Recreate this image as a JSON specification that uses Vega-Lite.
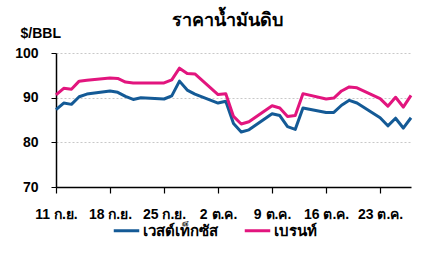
{
  "$schema": "https://vega.github.io/schema/vega-lite/v6.json",
  "autosize": "none",
  "width": 355,
  "height": 134,
  "padding": {"left": 56, "top": 53, "right": 16, "bottom": 66},
  "background": "white",
  "title": {"text": "ราคาน้ำมันดิบ", "fontSize": 18, "fontWeight": "bold", "font": "Liberation Sans", "color": "black", "anchor": "middle", "dx": -6, "offset": -4},
  "data": {"values": [
    {"date": "2023-09-11", "series": "เวสต์เท็กซัส", "price": 87.3},
    {"date": "2023-09-12", "series": "เวสต์เท็กซัส", "price": 88.8},
    {"date": "2023-09-13", "series": "เวสต์เท็กซัส", "price": 88.5},
    {"date": "2023-09-14", "series": "เวสต์เท็กซัส", "price": 90.2},
    {"date": "2023-09-15", "series": "เวสต์เท็กซัส", "price": 90.8},
    {"date": "2023-09-18", "series": "เวสต์เท็กซัส", "price": 91.5},
    {"date": "2023-09-19", "series": "เวสต์เท็กซัส", "price": 91.2},
    {"date": "2023-09-20", "series": "เวสต์เท็กซัส", "price": 90.3},
    {"date": "2023-09-21", "series": "เวสต์เท็กซัส", "price": 89.6},
    {"date": "2023-09-22", "series": "เวสต์เท็กซัส", "price": 90.0},
    {"date": "2023-09-25", "series": "เวสต์เท็กซัส", "price": 89.7},
    {"date": "2023-09-26", "series": "เวสต์เท็กซัส", "price": 90.4},
    {"date": "2023-09-27", "series": "เวสต์เท็กซัส", "price": 93.7},
    {"date": "2023-09-28", "series": "เวสต์เท็กซัส", "price": 91.7},
    {"date": "2023-09-29", "series": "เวสต์เท็กซัส", "price": 90.8},
    {"date": "2023-10-02", "series": "เวสต์เท็กซัส", "price": 88.8},
    {"date": "2023-10-03", "series": "เวสต์เท็กซัส", "price": 89.2},
    {"date": "2023-10-04", "series": "เวสต์เท็กซัส", "price": 84.2},
    {"date": "2023-10-05", "series": "เวสต์เท็กซัส", "price": 82.3},
    {"date": "2023-10-06", "series": "เวสต์เท็กซัส", "price": 82.8},
    {"date": "2023-10-09", "series": "เวสต์เท็กซัส", "price": 86.4},
    {"date": "2023-10-10", "series": "เวสต์เท็กซัส", "price": 86.0},
    {"date": "2023-10-11", "series": "เวสต์เท็กซัส", "price": 83.5},
    {"date": "2023-10-12", "series": "เวสต์เท็กซัส", "price": 82.9},
    {"date": "2023-10-13", "series": "เวสต์เท็กซัส", "price": 87.7},
    {"date": "2023-10-16", "series": "เวสต์เท็กซัส", "price": 86.7},
    {"date": "2023-10-17", "series": "เวสต์เท็กซัส", "price": 86.7},
    {"date": "2023-10-18", "series": "เวสต์เท็กซัส", "price": 88.3},
    {"date": "2023-10-19", "series": "เวสต์เท็กซัส", "price": 89.4},
    {"date": "2023-10-20", "series": "เวสต์เท็กซัส", "price": 88.8},
    {"date": "2023-10-23", "series": "เวสต์เท็กซัส", "price": 85.5},
    {"date": "2023-10-24", "series": "เวสต์เท็กซัส", "price": 83.7},
    {"date": "2023-10-25", "series": "เวสต์เท็กซัส", "price": 85.4},
    {"date": "2023-10-26", "series": "เวสต์เท็กซัส", "price": 83.2},
    {"date": "2023-10-27", "series": "เวสต์เท็กซัส", "price": 85.5},
    {"date": "2023-09-11", "series": "เบรนท์", "price": 90.6},
    {"date": "2023-09-12", "series": "เบรนท์", "price": 92.1},
    {"date": "2023-09-13", "series": "เบรนท์", "price": 91.9},
    {"date": "2023-09-14", "series": "เบรนท์", "price": 93.7},
    {"date": "2023-09-15", "series": "เบรนท์", "price": 93.9},
    {"date": "2023-09-18", "series": "เบรนท์", "price": 94.4},
    {"date": "2023-09-19", "series": "เบรนท์", "price": 94.3},
    {"date": "2023-09-20", "series": "เบรนท์", "price": 93.5},
    {"date": "2023-09-21", "series": "เบรนท์", "price": 93.3},
    {"date": "2023-09-22", "series": "เบรนท์", "price": 93.3},
    {"date": "2023-09-25", "series": "เบรนท์", "price": 93.3},
    {"date": "2023-09-26", "series": "เบรนท์", "price": 94.0},
    {"date": "2023-09-27", "series": "เบรนท์", "price": 96.6},
    {"date": "2023-09-28", "series": "เบรนท์", "price": 95.4},
    {"date": "2023-09-29", "series": "เบรนท์", "price": 95.3},
    {"date": "2023-10-02", "series": "เบรนท์", "price": 90.7},
    {"date": "2023-10-03", "series": "เบรนท์", "price": 90.9},
    {"date": "2023-10-04", "series": "เบรนท์", "price": 85.8},
    {"date": "2023-10-05", "series": "เบรนท์", "price": 84.1},
    {"date": "2023-10-06", "series": "เบรนท์", "price": 84.6},
    {"date": "2023-10-09", "series": "เบรนท์", "price": 88.2},
    {"date": "2023-10-10", "series": "เบรนท์", "price": 87.7},
    {"date": "2023-10-11", "series": "เบรนท์", "price": 85.8},
    {"date": "2023-10-12", "series": "เบรนท์", "price": 86.0},
    {"date": "2023-10-13", "series": "เบรนท์", "price": 90.9},
    {"date": "2023-10-16", "series": "เบรนท์", "price": 89.7},
    {"date": "2023-10-17", "series": "เบรนท์", "price": 89.9},
    {"date": "2023-10-18", "series": "เบรนท์", "price": 91.5},
    {"date": "2023-10-19", "series": "เบรนท์", "price": 92.4},
    {"date": "2023-10-20", "series": "เบรนท์", "price": 92.2},
    {"date": "2023-10-23", "series": "เบรนท์", "price": 89.8},
    {"date": "2023-10-24", "series": "เบรนท์", "price": 88.1},
    {"date": "2023-10-25", "series": "เบรนท์", "price": 90.1},
    {"date": "2023-10-26", "series": "เบรนท์", "price": 87.9},
    {"date": "2023-10-27", "series": "เบรนท์", "price": 90.5}
  ]},
  "mark": {"type": "line", "strokeWidth": 3, "strokeJoin": "round"},
  "encoding": {
    "x": {
      "field": "date", "type": "temporal",
      "scale": {"type": "utc", "nice": false,
        "domain": [{"year": 2023, "month": 9, "date": 11, "utc": true}, {"year": 2023, "month": 10, "date": 27, "utc": true}]},
      "axis": {
        "title": null,
        "values": [
          {"year": 2023, "month": 9, "date": 11, "utc": true},
          {"year": 2023, "month": 9, "date": 18, "utc": true},
          {"year": 2023, "month": 9, "date": 25, "utc": true},
          {"year": 2023, "month": 10, "date": 2, "utc": true},
          {"year": 2023, "month": 10, "date": 9, "utc": true},
          {"year": 2023, "month": 10, "date": 16, "utc": true},
          {"year": 2023, "month": 10, "date": 23, "utc": true}
        ],
        "labelExpr": "utcdate(datum.value) + ' ' + (utcmonth(datum.value) == 8 ? 'ก.ย.' : 'ต.ค.')",
        "grid": false,
        "domainColor": "black",
        "domainWidth": 1.5,
        "tickColor": "black",
        "tickSize": 6,
        "tickWidth": 1.2,
        "labelPadding": 14,
        "labelFont": "Liberation Sans",
        "labelFontSize": 14,
        "labelFontWeight": "bold",
        "labelColor": "black",
        "labelFlush": false,
        "labelOverlap": false
      }
    },
    "y": {
      "field": "price", "type": "quantitative",
      "scale": {"domain": [70, 100], "nice": false, "zero": false},
      "axis": {
        "values": [70, 80, 90, 100],
        "title": "$/BBL",
        "titleAngle": 0,
        "titleAlign": "left",
        "titleBaseline": "middle",
        "titleX": -36,
        "titleY": -20,
        "titleFont": "Liberation Sans",
        "titleFontSize": 14,
        "titleFontWeight": "bold",
        "titleColor": "black",
        "grid": true,
        "gridColor": "#c8c8c8",
        "gridDash": [2, 2],
        "gridWidth": 1,
        "domainColor": "black",
        "domainWidth": 1.5,
        "tickColor": "black",
        "tickSize": 5,
        "labelPadding": 13,
        "labelFont": "Liberation Sans",
        "labelFontSize": 14,
        "labelFontWeight": "bold",
        "labelColor": "black"
      }
    },
    "color": {
      "field": "series", "type": "nominal",
      "scale": {"domain": ["เวสต์เท็กซัส", "เบรนท์"], "range": ["#145a96", "#e2157e"]},
      "legend": {
        "title": null,
        "orient": "none",
        "direction": "horizontal",
        "legendX": 56,
        "legendY": 163,
        "symbolType": "stroke",
        "symbolStrokeWidth": 3,
        "symbolSize": 650,
        "labelFont": "Liberation Sans",
        "labelFontSize": 15,
        "labelFontWeight": "bold",
        "labelColor": "black",
        "labelOffset": 2,
        "columnPadding": 20
      }
    }
  },
  "config": {"view": {"stroke": null}}
}
